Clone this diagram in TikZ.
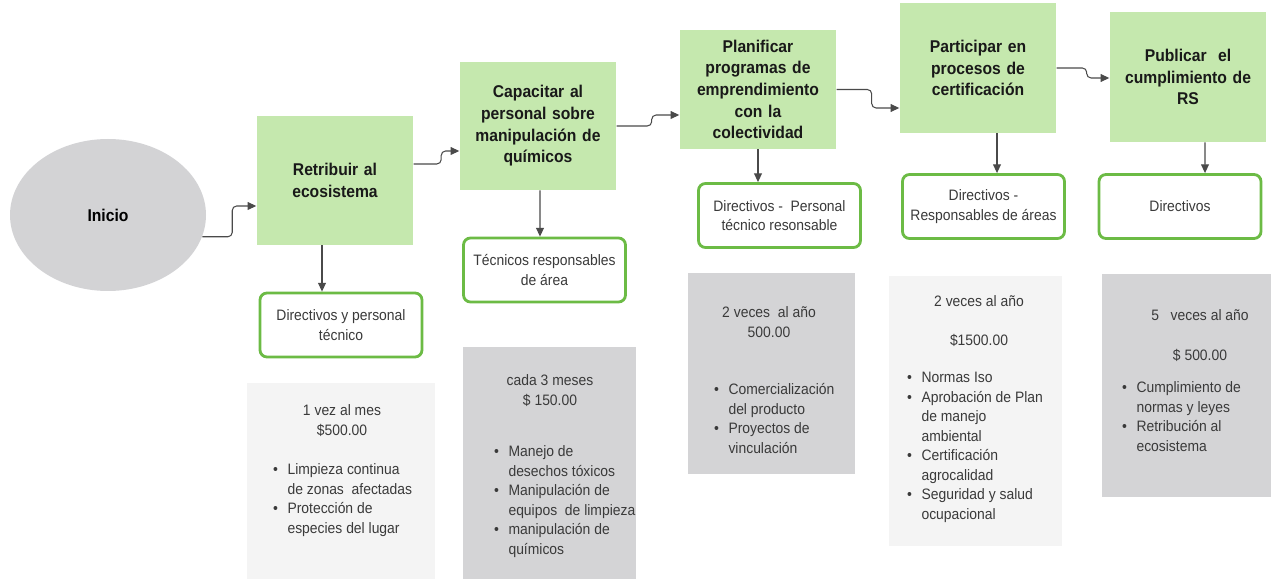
\documentclass[tikz,border=0pt]{standalone}
\usepackage{fontspec}
\setmainfont{Liberation Sans}[FakeStretch=0.92]
\usetikzlibrary{positioning,shapes.geometric,arrows.meta}

\definecolor{stepgreen}{HTML}{C5E8AE}
\definecolor{rolegreen}{HTML}{6CBB45}
\definecolor{startgray}{HTML}{D3D3D5}
\definecolor{notedark}{HTML}{D4D4D6}
\definecolor{notelight}{HTML}{F4F4F4}
\definecolor{linegray}{HTML}{4A4A4A}
\definecolor{textgray}{HTML}{3A3A3A}

\newcommand{\stepfont}{\fontsize{9.7}{12.3}\selectfont\bfseries}
\newcommand{\notefont}{\fontsize{8.6}{11.1}\selectfont}

\begin{document}
\begin{tikzpicture}[
            node distance=1.5cm,
            stepbox/.style={rectangle, fill=stepgreen, minimum width=3cm, text width=2.9cm, align=center, font=\stepfont, text=black!90},
            rolebox/.style={rectangle, draw=rolegreen, line width=1.6pt, rounded corners=4pt, fill=white, minimum width=3.24cm, minimum height=1.28cm, align=center, font=\notefont, text=textgray},
            notebox/.style={rectangle, inner sep=0pt},
            notetext/.style={inner sep=0pt, font=\notefont, text=textgray},
            arrow/.style={-{Triangle[length=5pt,width=4.5pt]}, draw=linegray, line width=0.6pt},
            flow/.style={arrow, rounded corners=2.5pt}
            ]
            \useasboundingbox (0,0) rectangle (25.42,-11.58);

            % Start
            \node[ellipse, fill=startgray, minimum width=3.92cm, minimum height=3.04cm, font=\stepfont] (inicio) at (2.16,-4.30) {Inicio};

            % Activities
            \node[stepbox, minimum height=2.58cm] (retribuir) at (6.70,-3.61) {Retribuir al\\ecosistema};
            \node[stepbox, minimum height=2.56cm] (capacitar) at (10.76,-2.52) {Capacitar al\\personal sobre\\manipulación de\\químicos};
            \node[stepbox, minimum height=2.38cm] (planificar) at (15.16,-1.79) {Planificar\\programas de\\emprendimiento\\con la\\colectividad};
            \node[stepbox, minimum height=2.60cm] (participar) at (19.56,-1.36) {Participar en\\procesos de\\certificación};
            \node[stepbox, minimum height=2.60cm] (publicar) at (23.76,-1.54) {Publicar\ \ el\\cumplimiento de\\RS};

            % Responsibles
            \node[rolebox] (dirpersonal) at (6.82,-6.50) {Directivos y personal\\técnico};
            \node[rolebox] (tecnicos) at (10.89,-5.40) {Técnicos responsables\\de área};
            \node[rolebox] (dirtecnico) at (15.59,-4.31) {Directivos -\ \ Personal\\técnico resonsable};
            \node[rolebox] (dirareas) at (19.67,-4.13) {Directivos -\\Responsables de áreas};
            \node[rolebox] (directivos) at (23.60,-4.13) {Directivos};

            % Frequency, cost and actions
            \node[notebox, fill=notelight, minimum width=3.76cm, minimum height=3.92cm] (costA) at (6.82,-9.62) {};
            \node[notebox, fill=notedark, minimum width=3.46cm, minimum height=4.64cm] (costB) at (10.99,-9.26) {};
            \node[notebox, fill=notedark, minimum width=3.34cm, minimum height=4.02cm] (costC) at (15.43,-7.47) {};
            \node[notebox, fill=notelight, minimum width=3.46cm, minimum height=5.40cm] (costD) at (19.51,-8.22) {};
            \node[notebox, fill=notedark, minimum width=3.38cm, minimum height=4.46cm] (costE) at (23.73,-7.71) {};

            \node[notetext, below=0.38cm of costA.north, xshift=0.02cm] (headA) {\begin{tabular}{@{}c@{}}1 vez al mes\\\$500.00\end{tabular}};
            \node[notetext, below right=1.56cm and 0.52cm of costA.north west] (listA) {\begin{tabular}{@{}l@{\hspace{5.5pt}}l@{}}
                \textbullet & Limpieza continua\\ & de zonas\ \ afectadas\\
                \textbullet & Protección de\\ & especies del lugar\end{tabular}};

            \node[notetext, below=0.50cm of costB.north, xshift=0.01cm] (headB) {\begin{tabular}{@{}c@{}}cada 3 meses\\\$ 150.00\end{tabular}};
            \node[notetext, below right=1.92cm and 0.62cm of costB.north west] (listB) {\begin{tabular}{@{}l@{\hspace{5.5pt}}l@{}}
                \textbullet & Manejo de\\ & desechos tóxicos\\
                \textbullet & Manipulación de\\ & equipos\ \ de limpieza\\
                \textbullet & manipulación de\\ & químicos\end{tabular}};

            \node[notetext, below=0.62cm of costC.north, xshift=-0.05cm] (headC) {\begin{tabular}{@{}c@{}}2 veces\ \ al año\\500.00\end{tabular}};
            \node[notetext, below right=2.16cm and 0.52cm of costC.north west] (listC) {\begin{tabular}{@{}l@{\hspace{5.5pt}}l@{}}
                \textbullet & Comercialización\\ & del producto\\
                \textbullet & Proyectos de\\ & vinculación\end{tabular}};

            \node[notetext, below=0.34cm of costD.north, xshift=0.07cm] (headD) {\begin{tabular}{@{}c@{}}2 veces al año\\[0.39cm]\$1500.00\end{tabular}};
            \node[notetext, below right=1.86cm and 0.36cm of costD.north west] (listD) {\begin{tabular}{@{}l@{\hspace{5.5pt}}l@{}}
                \textbullet & Normas Iso\\
                \textbullet & Aprobación de Plan\\ & de manejo\\ & ambiental\\
                \textbullet & Certificación\\ & agrocalidad\\
                \textbullet & Seguridad y salud\\ & ocupacional\end{tabular}};

            \node[notetext, below=0.66cm of costE.north, xshift=0.27cm] (headE) {\begin{tabular}{@{}c@{}}5\ \ \ veces al año\\[0.41cm]\$ 500.00\end{tabular}};
            \node[notetext, below right=2.10cm and 0.40cm of costE.north west] (listE) {\begin{tabular}{@{}l@{\hspace{5.5pt}}l@{}}
                \textbullet & Cumplimiento de\\ & normas y leyes\\
                \textbullet & Retribución al\\ & ecosistema\end{tabular}};

            % Arrows between activities
            \draw[flow] (inicio.-13) -- ++(0.6,0) |- ([yshift=-0.51cm]retribuir.west);
            \draw[flow] ([yshift=0.33cm]retribuir.east) -- ++(0.55,0) |- ([yshift=-0.5cm]capacitar.west);
            \draw[flow] (capacitar.east) -- ++(0.7,0) |- ([yshift=-0.51cm]planificar.west);
            \draw[flow] (planificar.east) -- ++(0.7,0) |- ([yshift=-0.8cm]participar.west);
            \draw[flow] (participar.east) -- ++(0.6,0) |- ([yshift=-0.02cm]publicar.west);

            % Arrows to responsibles
            \draw[arrow] ([xshift=-0.26cm]retribuir.south) -- ([xshift=-0.38cm]dirpersonal.north);
            \draw[arrow] ([xshift=0.04cm]capacitar.south) -- ([xshift=-0.09cm]tecnicos.north);
            \draw[arrow] (planificar.south) -- ([xshift=-0.43cm]dirtecnico.north);
            \draw[arrow] ([xshift=0.38cm]participar.south) -- ([xshift=0.27cm]dirareas.north);
            \draw[arrow] ([xshift=0.34cm]publicar.south) -- ([xshift=0.50cm]directivos.north);

        \end{tikzpicture}
\end{document}
